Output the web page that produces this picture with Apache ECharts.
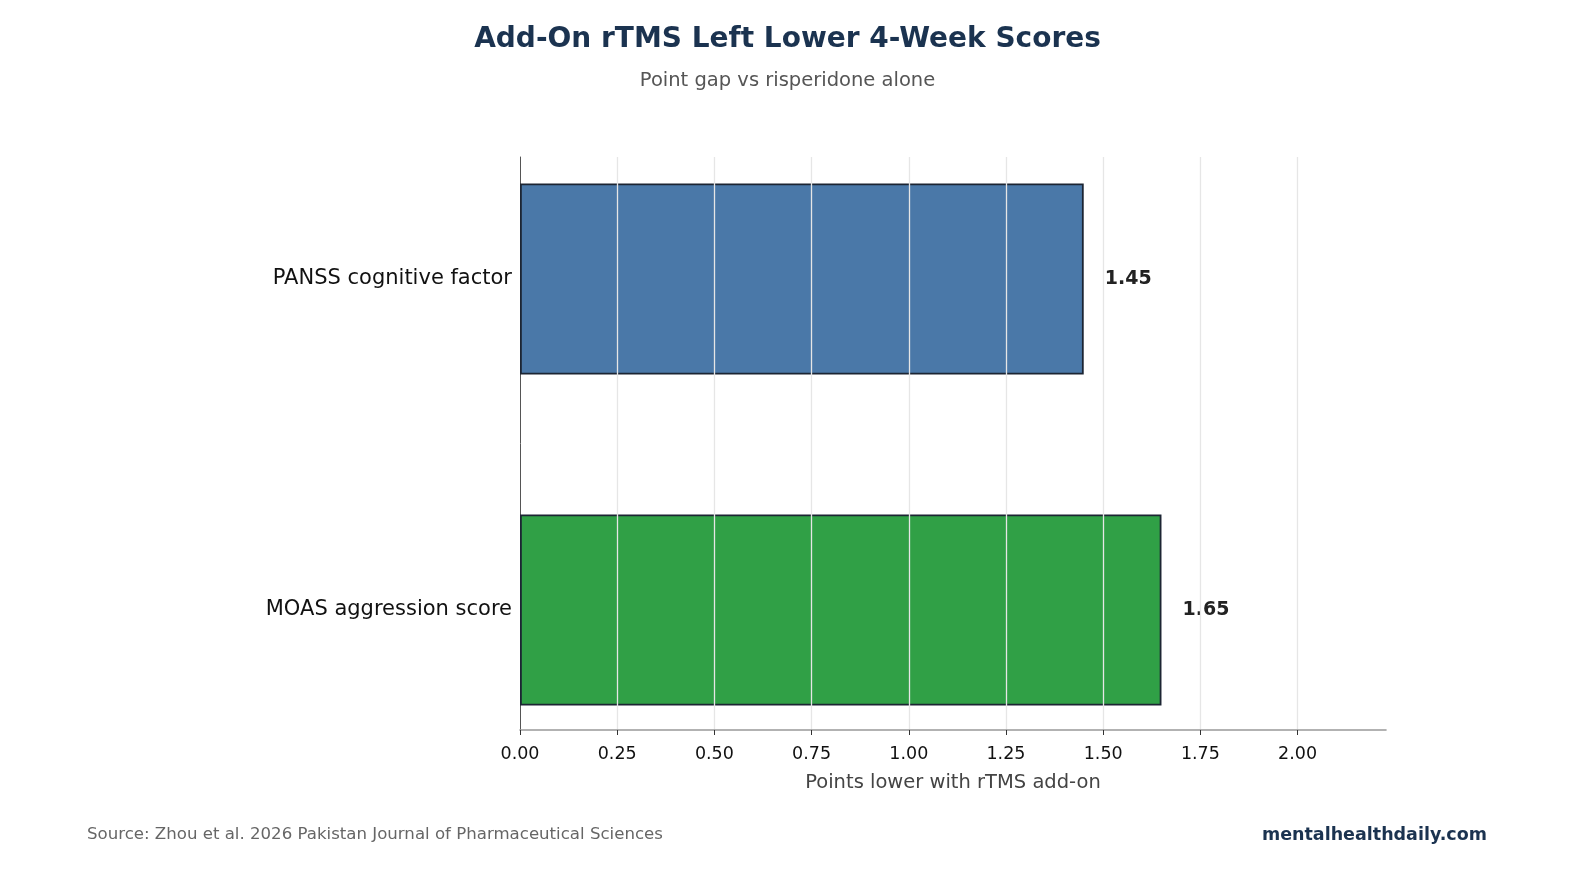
<!DOCTYPE html>
<html>
<head>
<meta charset="utf-8">
<script src="https://cdn.jsdelivr.net/npm/echarts@6/dist/echarts.min.js"></script>
<style>
  html, body { margin: 0; padding: 0; background: #fff; }
  #main { width: 1575px; height: 870px; }
</style>
</head>
<body>
<div id="main"></div>
<script>
const categories = ['PANSS cognitive factor', 'MOAS aggression score']
const values = [1.45, 1.65]
const barColors = ['#4a78a8', '#30a046']
const xMax = 2.2275

const font = 'DejaVu Sans'
const chart = echarts.init(document.getElementById('main'))

// grid 0 holds the bars (category band sized so bar centres land where they should),
// grid 1 is the visible plot frame with the ticks, gridlines and axis name
const option = {
  backgroundColor: '#fff',
  textStyle: { fontFamily: font },
  title: [
    {
      text: 'Add-On rTMS Left Lower 4-Week Scores',
      left: 'center', top: 21,
      textStyle: { fontFamily: font, fontSize: 28, fontWeight: 'bold', color: '#1b3350' },
    },
    {
      text: 'Point gap vs risperidone alone',
      left: 'center', top: 66,
      textStyle: { fontFamily: font, fontSize: 19.5, fontWeight: 'normal', color: '#555' },
    },
    {
      text: 'Source: Zhou et al. 2026 Pakistan Journal of Pharmaceutical Sciences',
      left: 82, top: 821,
      textStyle: { fontFamily: font, fontSize: 16.6, fontWeight: 'normal', color: '#666' },
    },
    {
      text: 'mentalhealthdaily.com',
      right: 83, top: 821,
      textStyle: { fontFamily: font, fontSize: 17.5, fontWeight: 'bold', color: '#1b3350' },
    },
  ],
  grid: [
    { left: 520, right: 189, top: 113.5, bottom: 94.5, containLabel: false },
    { left: 520, right: 189, top: 157, bottom: 140, containLabel: false },
  ],
  xAxis: [
    {
      gridIndex: 0, type: 'value', min: 0, max: xMax,
      axisLine: { show: false }, axisTick: { show: false },
      axisLabel: { show: false }, splitLine: { show: false },
    },
    {
      gridIndex: 1, type: 'value', min: 0, max: xMax, interval: 0.25, z: 5,
      name: 'Points lower with rTMS add-on',
      nameLocation: 'middle', nameGap: 43,
      nameTextStyle: { fontFamily: font, fontSize: 19.5, color: '#444' },
      axisLine: { show: true, lineStyle: { color: '#999', width: 1.6 } },
      axisTick: { show: true, length: 5, lineStyle: { color: '#333', width: 1 } },
      axisLabel: {
        fontFamily: font, fontSize: 17.5, color: '#111', margin: 15,
        showMaxLabel: false,
        formatter: v => v.toFixed(2),
      },
      splitLine: { show: true, showMinLine: false, showMaxLine: false, lineStyle: { color: '#e6e6e6', width: 1.3 } },
    },
  ],
  yAxis: [
    {
      gridIndex: 0, type: 'category', inverse: true, data: categories,
      axisLine: { show: false }, axisTick: { show: false },
      axisLabel: { fontFamily: font, fontSize: 21, color: '#111', margin: 8 },
    },
    {
      gridIndex: 1, type: 'value', min: 0, max: 1,
      axisLine: { show: true, lineStyle: { color: '#555', width: 1 } },
      axisTick: { show: false }, axisLabel: { show: false }, splitLine: { show: false },
    },
  ],
  series: [
    {
      type: 'bar',
      xAxisIndex: 0, yAxisIndex: 0,
      barWidth: '57.7%',
      data: values.map((v, i) => ({
        value: v,
        itemStyle: { color: barColors[i], borderColor: '#1c2533', borderWidth: 1.8 },
      })),
      label: {
        show: true, position: 'right', distance: 21,
        fontFamily: font, fontSize: 19, fontWeight: 'bold', color: '#222',
        formatter: p => p.value.toFixed(2),
      },
    },
  ],
}
chart.setOption(option)
</script>
</body>
</html>
